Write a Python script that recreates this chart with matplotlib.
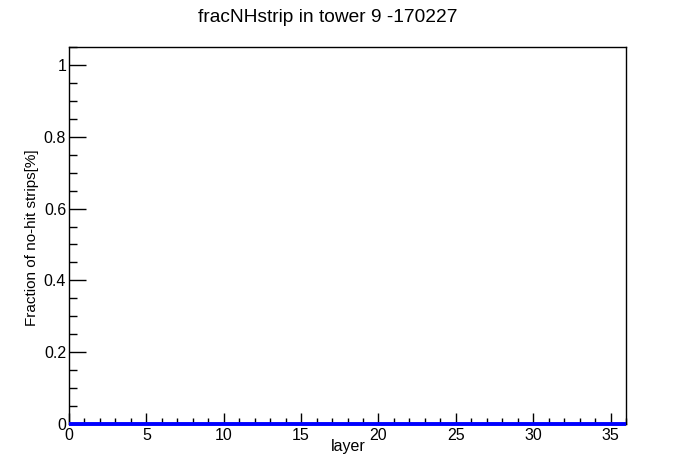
import matplotlib
matplotlib.use("Agg")
import matplotlib.pyplot as plt
from matplotlib.ticker import MultipleLocator

plt.rcParams['font.family'] = ['Liberation Sans', 'DejaVu Sans']

layers = list(range(36))
frac = [0.0] * 36

fig = plt.figure(figsize=(6.96, 4.72), dpi=100)
ax = fig.add_axes([69/696, 1 - 424/472, (626-69)/696, (424-47)/472])

edges = list(range(37))
ax.stairs(frac, edges, color='#0000ff', linewidth=2.8, baseline=None,
          clip_on=False, zorder=5)

ax.set_xlim(0, 36)
ax.set_ylim(0, 1.05)
ax.xaxis.set_major_locator(MultipleLocator(5))
ax.xaxis.set_minor_locator(MultipleLocator(1))
ax.yaxis.set_major_locator(MultipleLocator(0.2))
ax.yaxis.set_minor_locator(MultipleLocator(0.05))
ax.tick_params(which='both', direction='in', top=False, right=False, labelsize=11.5, width=1)
ax.tick_params(axis='x', which='major', length=8, pad=3)
ax.tick_params(axis='x', which='minor', length=4)
ax.tick_params(axis='y', which='major', length=12.2, pad=2)
ax.tick_params(axis='y', which='minor', length=6)
ax.xaxis.set_major_formatter(plt.FuncFormatter(lambda v, p: f"{v:g}"))
ax.yaxis.set_major_formatter(plt.FuncFormatter(lambda v, p: f"{v:g}"))
for s in ax.spines.values():
    s.set_linewidth(1)

ax.set_xlabel('layer', fontsize=11.5)
ax.xaxis.set_label_coords((348-69)/557, -0.04)
ax.set_ylabel('Fraction of no-hit strips[%]', fontsize=11)
ax.yaxis.set_label_coords(-0.054, (424-238)/377)
fig.text(328/696, 1 - 18/472, 'fracNHstrip in tower 9 -170227', ha='center', va='center', fontsize=13.8)

fig.savefig('out.png', dpi=100)
